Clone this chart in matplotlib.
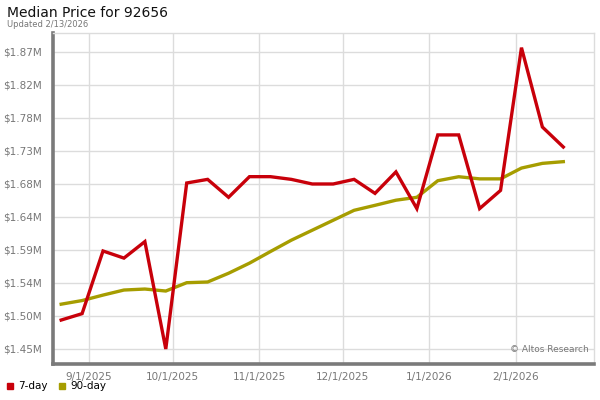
import pandas as pd
import matplotlib.pyplot as plt
import matplotlib.dates as mdates
from matplotlib.lines import Line2D
from matplotlib.ticker import FixedLocator

# weekly-ish sample dates (points are ~7.5 days apart on the chart)
dates = pd.date_range("2025-08-22", periods=25, freq="7D12h")

seven_day = [1.4927, 1.5017, 1.5898, 1.5798, 1.6030, 1.4520, 1.6854, 1.6905,
             1.6653, 1.6943, 1.6943, 1.6905, 1.6840, 1.6840, 1.6905, 1.6708,
             1.7010, 1.6494, 1.7530, 1.7530, 1.6494, 1.6750, 1.8757, 1.7641,
             1.7360]
ninety_day = [1.5150, 1.5201, 1.5278, 1.5349, 1.5363, 1.5335, 1.5452, 1.5462,
              1.5585, 1.5727, 1.5890, 1.6050, 1.6190, 1.6330, 1.6470, 1.6540,
              1.6612, 1.6653, 1.6886, 1.6942, 1.6912, 1.6912, 1.7064, 1.7130,
              1.7154]

y_ticks = [1.4520, 1.4984, 1.5448, 1.5912, 1.6376, 1.6840, 1.7304, 1.7768,
           1.8232, 1.8696]
x_ticks = ["2025-09-01", "2025-10-01", "2025-11-01", "2025-12-01",
           "2026-01-01", "2026-02-01"]

red = "#c8000a"
olive = "#a69d00"
grey = "#7a7a7a"

fig = plt.figure(figsize=(6, 4), dpi=100)
ax = fig.add_axes([0.088, 0.09, 0.902, 0.8275])

ax.plot(dates, ninety_day, color=olive, lw=2.4, solid_joinstyle="miter", zorder=3)
ax.plot(dates, seven_day, color=red, lw=2.4, solid_joinstyle="miter", zorder=4)

ax.set_ylim(1.4309, 1.8963)
ax.set_xlim(pd.Timestamp("2025-08-19"), pd.Timestamp("2026-03-01"))

ax.yaxis.set_major_locator(FixedLocator(y_ticks))
ax.set_yticklabels(["$%.2fM" % v for v in y_ticks])
ax.set_xticks(pd.to_datetime(x_ticks))
ax.xaxis.set_major_formatter(mdates.DateFormatter("%-m/%-d/%Y"))

ax.grid(True, color="#dcdcdc", lw=1)
ax.set_axisbelow(True)
ax.tick_params(length=0, labelsize=7.5, labelcolor="#777777")
ax.tick_params(axis="y", pad=8)
ax.tick_params(axis="x", pad=6)

for s in ["left", "bottom"]:
    ax.spines[s].set_color(grey)
    ax.spines[s].set_linewidth(2.6)
for s in ["top", "right"]:
    ax.spines[s].set_color("#dcdcdc")
    ax.spines[s].set_linewidth(1)

ax.text(0.99, 0.03, "© Altos Research", transform=ax.transAxes,
        ha="right", va="bottom", fontsize=6.5, color="#777777")

fig.text(0.012, 0.968, "Median Price for 92656", fontsize=10, color="#111111",
         va="center")
fig.text(0.012, 0.938, "Updated 2/13/2026", fontsize=6, color="#777777",
         va="center")

handles = [Line2D([], [], ls="", marker="s", ms=5, color=red),
           Line2D([], [], ls="", marker="s", ms=5, color=olive)]
fig.legend(handles, ["7-day", "90-day"], loc="lower left",
           bbox_to_anchor=(-0.008, -0.002), ncol=2, frameon=False,
           fontsize=7.5, handletextpad=0.3, columnspacing=0.9,
           handlelength=1.0)

fig.savefig("out.png", dpi=100, facecolor="white")
